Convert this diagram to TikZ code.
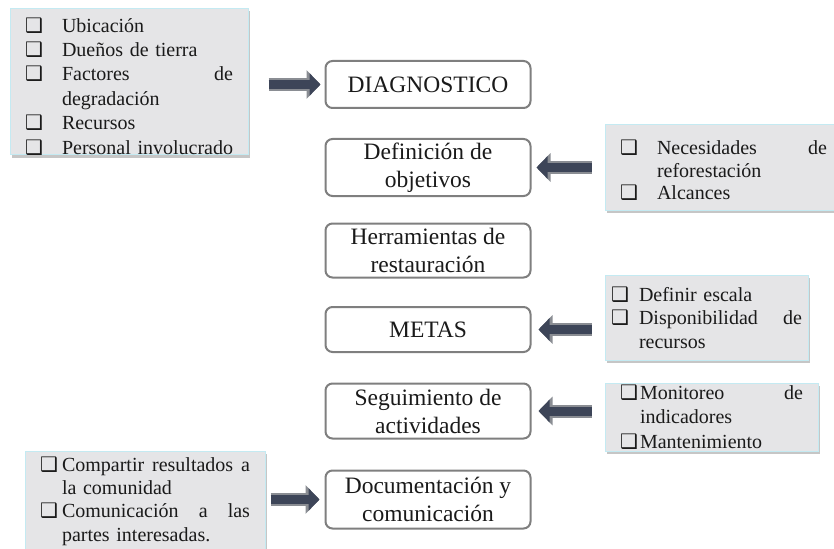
\documentclass[tikz,border=0pt]{standalone}
\usepackage{fontspec}
\setmainfont{Liberation Serif}
\newfontfamily\dingfont{DejaVu Sans}
\usetikzlibrary{arrows.meta,shadows}
\definecolor{boxedge}{HTML}{7F7F7F}
\definecolor{listfill}{HTML}{E5E5E7}
\definecolor{listedge}{HTML}{C4EAF2}
\definecolor{arrowfill}{HTML}{3D4558}
\definecolor{arrowedge}{HTML}{8A8D93}
\definecolor{txt}{HTML}{1A1A1A}
\hyphenpenalty=10000
\exhyphenpenalty=10000
\newcommand{\chk}{{\dingfont\bfseries ❑}}
\newcommand{\ck}[1]{\makebox[#1][l]{\chk}}
\newcommand{\ind}[1]{\hspace*{#1}}
\begin{document}
\begin{tikzpicture}[x=1pt, y=-1pt, text=txt,
	mainbox/.style={draw=boxedge, line width=2pt, rounded corners=7pt, fill=white,
		minimum width=205pt, inner sep=2pt, align=center, font=\fontsize{23.5}{28}\selectfont},
	listbox/.style={draw=listedge, line width=1pt, fill=listfill, inner ysep=0pt, align=left,
		drop shadow={shadow xshift=1.5pt, shadow yshift=-3pt, opacity=0.45},
		font=\fontsize{20}{24}\selectfont},
	bigarrow/.style={preaction={draw=arrowedge, line width=13pt, -{Triangle[length=14pt,width=28pt]}},
		draw=arrowfill, line width=9pt, -{Triangle[length=11pt,width=22pt]}}]
	\useasboundingbox (0,0) rectangle (834,548);
	\clip (0,0) rectangle (834,548);
	% main steps
	\node[mainbox, minimum height=47pt] (diag) at (428,84.5) {DIAGNOSTICO};
	\node[mainbox, minimum height=57pt] (obj) at (428,167.5) {Definición de\\objetivos};
	\node[mainbox, minimum height=54pt] (herr) at (428,250.5) {Herramientas de\\restauración};
	\node[mainbox, minimum height=45pt] (metas) at (428,329.5) {METAS};
	\node[mainbox, minimum height=55pt] (segui) at (428,411) {Seguimiento de\\actividades};
	\node[mainbox, minimum height=58pt] (docu) at (428,499.5) {Documentación y\\comunicación};
	% lists
	\node[listbox, inner xsep=15pt, text width=208pt, minimum height=141pt,
		font=\fontsize{20}{24.4}\selectfont] (lone) at (129,81.5) {%
		\rule{0pt}{24pt}\ck{37pt}Ubicación\\
		\ck{37pt}Dueños de tierra\\
		\ck{37pt}\makebox[171pt][l]{Factores\hfill de}\\
		\ind{37pt}degradación\\
		\ck{37pt}Recursos\\
		\ck{37pt}\mbox{Personal involucrado}};
	\node[listbox, inner xsep=15pt, text width=207pt, minimum height=85pt,
		font=\fontsize{20}{22.5}\selectfont] (rone) at (723.5,167.5) {%
		\rule{0pt}{20pt}\ck{37pt}\makebox[170pt][l]{Necesidades\hfill de}\\
		\ind{37pt}reforestación\\
		\ck{37pt}Alcances};
	\node[listbox, inner xsep=6pt, text width=191pt, minimum height=85pt,
		font=\fontsize{20}{23.5}\selectfont] (rtwo) at (706.5,317.5) {%
		\ck{28pt}Definir escala\\
		\ck{28pt}\makebox[163pt][l]{Disponibilidad\hfill de}\\
		\ind{28pt}recursos};
	\node[listbox, inner xsep=15pt, text width=183pt, minimum height=68pt,
		font=\fontsize{20}{24.5}\selectfont] (rthree) at (711.5,417) {%
		\ck{20pt}\makebox[163pt][l]{Monitoreo\hfill de}\\
		\ind{20pt}indicadores\\
		\ck{20pt}Mantenimiento};
	\node[listbox, inner xsep=15pt, text width=210pt, minimum height=100pt,
		font=\fontsize{20}{23.3}\selectfont] (ltwo) at (145,501) {%
		\ck{22pt}\makebox[188pt][l]{Compartir\hfill resultados\hfill a}\\
		\ind{22pt}la comunidad\\
		\ck{22pt}\makebox[188pt][l]{Comunicación\hfill a\hfill las}\\
		\ind{22pt}partes interesadas.};
	% arrows
	\draw[bigarrow, shorten <=20pt, shorten >=4pt] (lone.east |- diag.west) -- (diag.west);
	\draw[bigarrow, shorten <=13pt, shorten >=5pt] (rone.west |- obj.east) -- (obj.east);
	\draw[bigarrow, shorten <=13pt, shorten >=7pt] (rtwo.west |- metas.east) -- (metas.east);
	\draw[bigarrow, shorten <=13pt, shorten >=7pt] (rthree.west |- segui.east) -- (segui.east);
	\draw[bigarrow, shorten <=5pt, shorten >=5pt] (ltwo.east |- docu.west) -- (docu.west);
\end{tikzpicture}
\end{document}
